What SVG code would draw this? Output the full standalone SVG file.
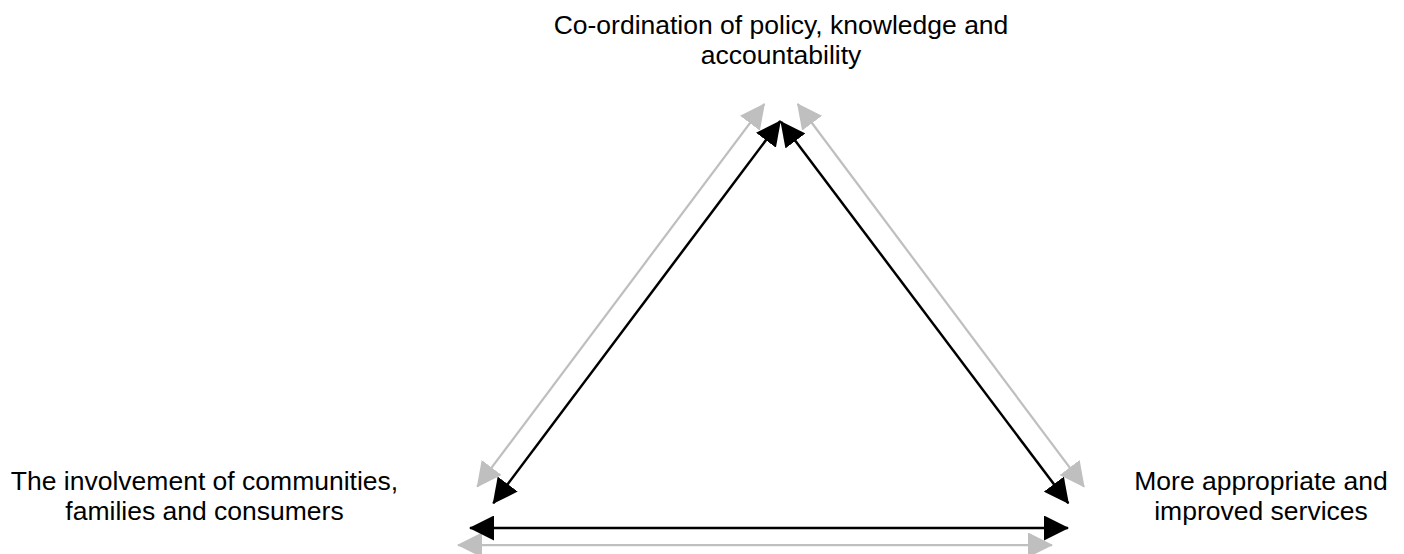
<svg xmlns="http://www.w3.org/2000/svg" width="1404" height="554" viewBox="0 0 1404 554">
<style>
text{font-family:"Liberation Sans",Arial,sans-serif;font-size:26.5px;fill:#000;text-anchor:middle}
.blk{stroke:#000;stroke-width:2.5;fill:none}
.gry{stroke:#bfbfbf;stroke-width:2.25;fill:none}
</style>
<defs>
<marker id="hb" markerUnits="userSpaceOnUse" viewBox="0 0 25 25" refX="24" refY="12.5" markerWidth="25" markerHeight="25" orient="auto-start-reverse">
<path d="M0,0 L25,12.5 L0,25 Z" fill="#000"/>
</marker>
<marker id="hg" markerUnits="userSpaceOnUse" viewBox="0 0 25 25" refX="24" refY="12.5" markerWidth="25" markerHeight="25" orient="auto-start-reverse">
<path d="M0,0 L25,12.5 L0,25 Z" fill="#bfbfbf"/>
</marker>
</defs>
<g id="node-top"><text x="781" y="34">Co-ordination of policy, knowledge and</text><text x="781" y="64">accountability</text></g>
<g id="node-left"><text x="204.5" y="490">The involvement of communities,</text><text x="204.5" y="520">families and consumers</text></g>
<g id="node-right"><text x="1261" y="490">More appropriate and</text><text x="1261" y="520">improved services</text></g>
<g id="connectors">
<line class="gry" x1="764.3" y1="104" x2="477.3" y2="486.7" marker-start="url(#hg)" marker-end="url(#hg)"/>
<line class="gry" x1="797.7" y1="104" x2="1084" y2="486.7" marker-start="url(#hg)" marker-end="url(#hg)"/>
<line class="gry" x1="458" y1="545" x2="1052" y2="545" marker-start="url(#hg)" marker-end="url(#hg)"/>
<line class="blk" x1="780.3" y1="121" x2="493.3" y2="503.3" marker-start="url(#hb)" marker-end="url(#hb)"/>
<line class="blk" x1="781" y1="121.7" x2="1068.3" y2="503.3" marker-start="url(#hb)" marker-end="url(#hb)"/>
<line class="blk" x1="470" y1="528" x2="1068" y2="528" marker-start="url(#hb)" marker-end="url(#hb)"/>
</g>
</svg>
